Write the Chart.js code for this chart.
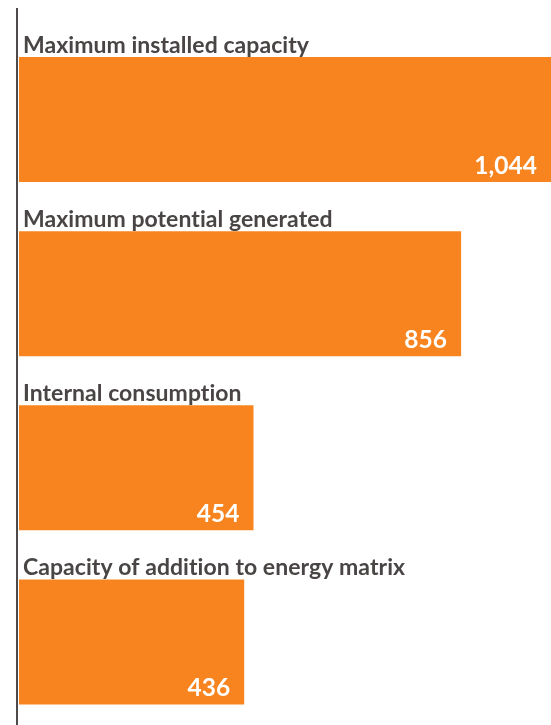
<!DOCTYPE html>
<html>
<head>
<meta charset="utf-8">
<script src="https://cdn.jsdelivr.net/npm/chart.js@4"></script>
<style>
  html, body { margin: 0; padding: 0; background: #fff; overflow: hidden; }
  #wrap { width: 551px; height: 729px; position: relative; }
</style>
</head>
<body>
<div id="wrap"><canvas id="energy-chart"></canvas></div>
<script>
const categories = [
    'Maximum installed capacity',
    'Maximum potential generated',
    'Internal consumption',
    'Capacity of addition to energy matrix'
];
const values = [1044, 856, 454, 436];
const valueLabels = ['1,044', '856', '454', '436'];

const barColor = '#F7841F';
const textColor = '#4A4545';
const fontFamily = 'Lato, "Open Sans", sans-serif';

// category name above each bar, value inside at the bottom right
const barLabels = {
    id: 'barLabels',
    afterDatasetsDraw(chart) {
        const ctx = chart.ctx;
        const area = chart.chartArea;
        const meta = chart.getDatasetMeta(0);
        ctx.save();
        // axis line on the left
        ctx.strokeStyle = '#4f4a4a';
        ctx.lineWidth = 2;
        ctx.beginPath();
        ctx.moveTo(area.left - 2, 8);
        ctx.lineTo(area.left - 2, chart.height);
        ctx.stroke();

        // small spacing keeps Lato from using its "ti" ligature
        if ('letterSpacing' in ctx) ctx.letterSpacing = '0.05px';

        meta.data.forEach((bar, i) => {
            const top = bar.y - bar.height / 2;
            const bottom = bar.y + bar.height / 2;
            ctx.fillStyle = textColor;
            ctx.font = 'bold 23px ' + fontFamily;
            ctx.textAlign = 'left';
            ctx.textBaseline = 'alphabetic';
            ctx.fillText(categories[i], area.left + 4, top - 4);

            ctx.fillStyle = '#ffffff';
            ctx.font = 'bold 24.5px ' + fontFamily;
            ctx.textAlign = 'right';
            const right = Math.min(bar.x, area.right);
            ctx.fillText(valueLabels[i], right - 14, bottom - 8);
        });
        ctx.restore();
    }
};

const ctx = document.getElementById('energy-chart').getContext('2d');
new Chart(ctx, {
    type: 'bar',
    data: {
        labels: categories,
        datasets: [{
            data: values,
            backgroundColor: barColor,
            borderWidth: 0,
            barPercentage: 1,
            categoryPercentage: 0.718
        }]
    },
    options: {
        indexAxis: 'y',
        responsive: true,
        maintainAspectRatio: false,
        animation: false,
        layout: {
            padding: { left: 19, right: 0, top: 32.5, bottom: 0 }
        },
        scales: {
            x: { display: false, min: 0, max: 1030 },
            y: { display: false }
        },
        plugins: {
            legend: { display: false },
            tooltip: { enabled: false }
        }
    },
    plugins: [barLabels]
});
</script>
</body>
</html>
